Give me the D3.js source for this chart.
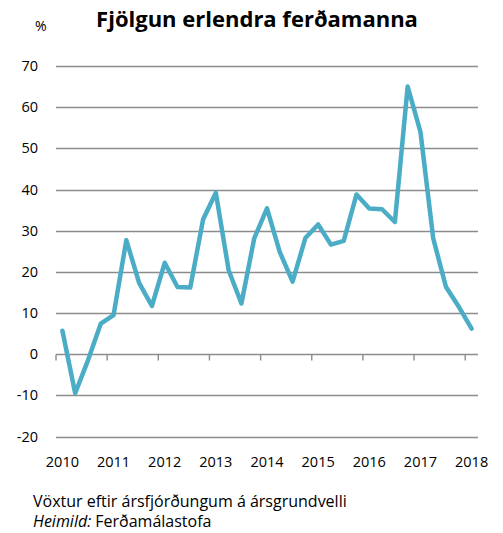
<!DOCTYPE html>
<html>
<head>
<meta charset="utf-8">
<script src="https://cdn.jsdelivr.net/npm/d3@7"></script>
<style>
  body { margin: 0; background: #fff; }
  text { font-family: "Open Sans", sans-serif; fill: #000; }
</style>
</head>
<body>
<div id="chart"></div>
<script>
// quarterly growth of foreign visitors, 2010Q1 - 2018Q1
var years = [2010, 2011, 2012, 2013, 2014, 2015, 2016, 2017, 2018];
var quarters = ["Q1", "Q2", "Q3", "Q4"];
var growth = [
  5.7, -9.5, -1.5, 7.4,
  9.5, 27.7, 17.3, 11.7,
  22.2, 16.3, 16.2, 32.7,
  39.2, 20.4, 12.3, 28.1,
  35.4, 24.8, 17.6, 28.2,
  31.5, 26.6, 27.5, 38.8,
  35.4, 35.2, 32.1, 65.0,
  54.0, 28.1, 16.3, 11.5,
  6.2
];
var yTicks = [-20, -10, 0, 10, 20, 30, 40, 50, 60, 70];

var categories = [];
years.forEach(function (yr) {
  quarters.forEach(function (q) { categories.push(yr + q); });
});
categories = categories.slice(0, growth.length);

var data = growth.map(function (v, i) { return { cat: categories[i], value: v }; });

var W = 503, H = 533;
var svg = d3.select("#chart").append("svg")
  .attr("width", W)
  .attr("height", H);

var x = d3.scaleBand()
  .domain(categories)
  .range([56, 478])
  .padding(0);

var y = d3.scaleLinear()
  .domain([-20, 70])
  .range([436.5, 66]);

// gridlines
svg.append("g")
  .selectAll("line")
  .data(yTicks)
  .enter().append("line")
  .attr("x1", 56)
  .attr("x2", 478)
  .attr("y1", function (d) { return Math.round(y(d)) + 0.5; })
  .attr("y2", function (d) { return Math.round(y(d)) + 0.5; })
  .attr("stroke", "#8c8c8c")
  .attr("stroke-width", 1.4);

// y labels
svg.append("g")
  .selectAll("text")
  .data(yTicks)
  .enter().append("text")
  .attr("x", 38)
  .attr("y", function (d) { return y(d); })
  .attr("dy", "0.35em")
  .attr("text-anchor", "end")
  .style("font-size", "14.5px")
  .text(function (d) { return d; });

// tick marks on the zero line, one per year
var tickCats = categories.filter(function (c, i) { return i % 4 === 0; });
var y0 = Math.round(y(0)) + 0.5;
svg.append("g")
  .selectAll("line")
  .data(tickCats)
  .enter().append("line")
  .attr("x1", function (d) { return x(d); })
  .attr("x2", function (d) { return x(d); })
  .attr("y1", y0)
  .attr("y2", y0 + 6)
  .attr("stroke", "#8c8c8c")
  .attr("stroke-width", 1.4);

// year labels under first quarter
svg.append("g")
  .selectAll("text")
  .data(tickCats)
  .enter().append("text")
  .attr("x", function (d) { return x(d) + x.bandwidth() / 2; })
  .attr("y", 467)
  .attr("text-anchor", "middle")
  .style("font-size", "14.5px")
  .text(function (d) { return d.slice(0, 4); });

// the line
svg.append("path")
  .datum(data)
  .attr("fill", "none")
  .attr("stroke", "#4bacc6")
  .attr("stroke-width", 4.5)
  .attr("stroke-linejoin", "round")
  .attr("stroke-linecap", "round")
  .attr("d", d3.line()
    .x(function (d) { return x(d.cat) + x.bandwidth() / 2; })
    .y(function (d) { return y(d.value); }));

// title and unit
svg.append("text")
  .attr("x", 257)
  .attr("y", 27)
  .attr("text-anchor", "middle")
  .style("font-size", "22px")
  .style("font-weight", "bold")
  .text("Fjölgun erlendra ferðamanna");

svg.append("text")
  .attr("x", 35)
  .attr("y", 31)
  .style("font-size", "14px")
  .text("%");

// caption
svg.append("text")
  .attr("x", 33)
  .attr("y", 507)
  .style("font-size", "16px")
  .text("Vöxtur eftir ársfjórðungum á ársgrundvelli");

var src = svg.append("text")
  .attr("x", 33)
  .attr("y", 527)
  .style("font-size", "16px");
src.append("tspan").style("font-style", "italic").text("Heimild:");
src.append("tspan").text(" Ferðamálastofa");
</script>
</body>
</html>
